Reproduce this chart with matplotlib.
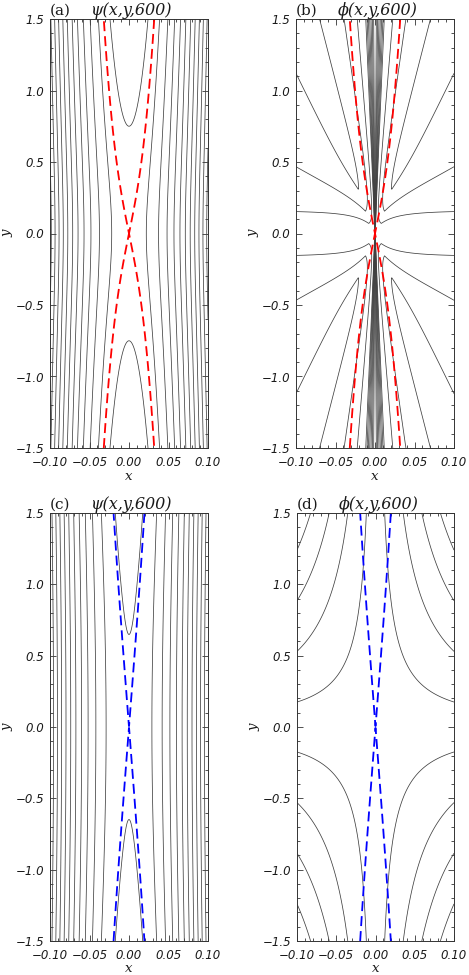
import matplotlib

matplotlib.use("Agg")
import matplotlib.pyplot as plt
import numpy as np
from matplotlib.ticker import MultipleLocator

plt.rcParams["lines.dashed_pattern"] = [5.5, 2.8]

# axes, ticks, titles
X_LIM = (-0.10, 0.10)
Y_LIM = (-1.5, 1.5)
X_TICKS = [-0.10, -0.05, 0.00, 0.05, 0.10]
X_TICK_LABELS = ["\u22120.10", "\u22120.05", "0.00", "0.05", "0.10"]
Y_TICKS = [-1.5, -1.0, -0.5, 0.0, 0.5, 1.0, 1.5]
Y_TICK_LABELS = ["\u22121.5", "\u22121.0", "\u22120.5", "0.0", "0.5", "1.0", "1.5"]
X_MINOR = 0.01
Y_MINOR = 0.1
TAGS = ["(a)", "(b)", "(c)", "(d)"]
TITLES = ["\u03c8(x,y,600)", "\u03d5(x,y,600)", "\u03c8(x,y,600)", "\u03d5(x,y,600)"]

# psi = x^2 - k0^2 y^2 / sqrt(1 + beta y^2), fitted to the separatrix and line spacing
PSI_A_K0, PSI_A_BETA = 0.0366, 3.44
PSI_C_K0, PSI_C_BETA = 0.0140, 0.149
PSI_A_LEVELS = [-0.00044, 0.00048, 0.0014, 0.00232, 0.00324, 0.00416, 0.00508,
                0.006, 0.00692, 0.00784, 0.00876, 0.00968]
PSI_C_LEVELS = [-0.00008, 0.00084, 0.00176, 0.00268, 0.0036, 0.00452, 0.00544,
                0.00636, 0.00728, 0.0082, 0.00912]
SEPARATRIX_LEVEL = [0.0]

# phi in (b): tanh(|y|/a) * g(s), s = |x|/sqrt(y^2+y0^2), plus a steep core near x = 0
PHI_B_A, PHI_B_Y0 = 0.24, 0.10
PHI_B_SPEAK, PHI_B_GPEAK = 0.065, 3.5
PHI_B_DOUT, PHI_B_TAUOUT = 1.8, 1.1
PHI_B_CIN, PHI_B_PIN = 1.65, 1.08
PHI_B_SCORE, PHI_B_KCORE, PHI_B_ACORE = 0.0089, 8.0, 0.1
PHI_B_LEVELS = [-7, -6, -5, -4, -3, -2, -1, 1, 2, 3]

# phi in (d): x*y hyperbolas
PHI_D_LEVELS = [-0.124, -0.0885, -0.053, -0.0175, 0.0175, 0.053, 0.0885, 0.124]

x = np.linspace(X_LIM[0], X_LIM[1], 1000)
y = np.linspace(Y_LIM[0], Y_LIM[1], 700)
X, Y = np.meshgrid(x, y)


def psi_field(k0, beta):
    return X**2 - k0**2 * Y**2 / np.sqrt(1 + beta * Y**2)


def phi_b_field():
    ax_, ay = np.abs(X), np.abs(Y)
    r = np.sqrt(Y**2 + PHI_B_Y0**2)
    s = np.maximum(ax_ / r, 1e-9)
    t = np.log(s / PHI_B_SPEAK)
    g_out = PHI_B_GPEAK - PHI_B_DOUT * np.tanh(np.maximum(t, 0) / PHI_B_TAUOUT)
    g_in = PHI_B_GPEAK - PHI_B_CIN * np.maximum(-t, 0) ** PHI_B_PIN
    g = np.clip(np.where(t > 0, g_out, g_in), 0, None)
    w = PHI_B_SCORE * r
    core = -PHI_B_KCORE * np.clip(1 - ax_ / w, 0, 1) * np.tanh(ay / PHI_B_ACORE)
    return np.tanh(ay / PHI_B_A) * g + core


psi_a = psi_field(PSI_A_K0, PSI_A_BETA)
psi_c = psi_field(PSI_C_K0, PSI_C_BETA)
phi_b = phi_b_field()
phi_d = X * Y

W, H = 469, 975
fig = plt.figure(figsize=(W / 100, H / 100), dpi=100)
boxes = [(50, 19, 208, 448), (296, 19, 454, 448), (50, 513, 208, 941), (297, 513, 454, 941)]
fields = [(psi_a, PSI_A_LEVELS), (phi_b, PHI_B_LEVELS), (psi_c, PSI_C_LEVELS), (phi_d, PHI_D_LEVELS)]
seps = [(psi_a, "#ff0000"), (psi_a, "#ff0000"), (psi_c, "#0000ff"), (psi_c, "#0000ff")]

for i, (l, t, r, b) in enumerate(boxes):
    ax = fig.add_axes([l / W, 1 - b / H, (r - l) / W, (b - t) / H])
    f, lev = fields[i]
    ax.contour(X, Y, f, levels=lev, colors="0.25", linewidths=0.55, linestyles="solid")
    sf, col = seps[i]
    ax.contour(X, Y, sf, levels=SEPARATRIX_LEVEL, colors=col, linewidths=1.3,
               linestyles="dashed")
    ax.set_xlim(*X_LIM)
    ax.set_ylim(*Y_LIM)
    ax.set_xticks(X_TICKS)
    ax.set_xticklabels(X_TICK_LABELS, fontsize=8.5, style="italic", family="DejaVu Sans")
    ax.set_yticks(Y_TICKS)
    ax.set_yticklabels(Y_TICK_LABELS, fontsize=8.5, style="italic", family="DejaVu Sans")
    ax.xaxis.set_minor_locator(MultipleLocator(X_MINOR))
    ax.yaxis.set_minor_locator(MultipleLocator(Y_MINOR))
    ax.tick_params(which="both", direction="in", top=True, right=True, width=0.6,
                   color="0.2", labelcolor="0.1")
    ax.tick_params(which="major", length=4)
    ax.tick_params(which="minor", length=2)
    ax.tick_params(axis="x", pad=6)
    ax.tick_params(axis="y", pad=4)
    for sp in ax.spines.values():
        sp.set_linewidth(0.7)
        sp.set_color("0.2")
    hgt = b - t
    ax.text(0.0, 1 + 4 / hgt, TAGS[i], transform=ax.transAxes, ha="left", va="baseline",
            fontsize=11, family="DejaVu Serif", color="0.1")
    ax.text(0.52, 1 + 4 / hgt, TITLES[i], transform=ax.transAxes, ha="center",
            va="baseline", fontsize=11.5, family="DejaVu Serif", style="italic", color="0.1")
    ax.text(0.5, -28 / hgt, "x", transform=ax.transAxes, ha="center", va="center",
            fontsize=9.5, family="DejaVu Serif", style="italic", color="0.1")
    ax.text(-43 / (r - l), 0.5, "y", transform=ax.transAxes, ha="center", va="center",
            rotation=90, fontsize=9.5, family="DejaVu Serif", style="italic", color="0.1")

fig.savefig("out.png", dpi=100, facecolor="white")
